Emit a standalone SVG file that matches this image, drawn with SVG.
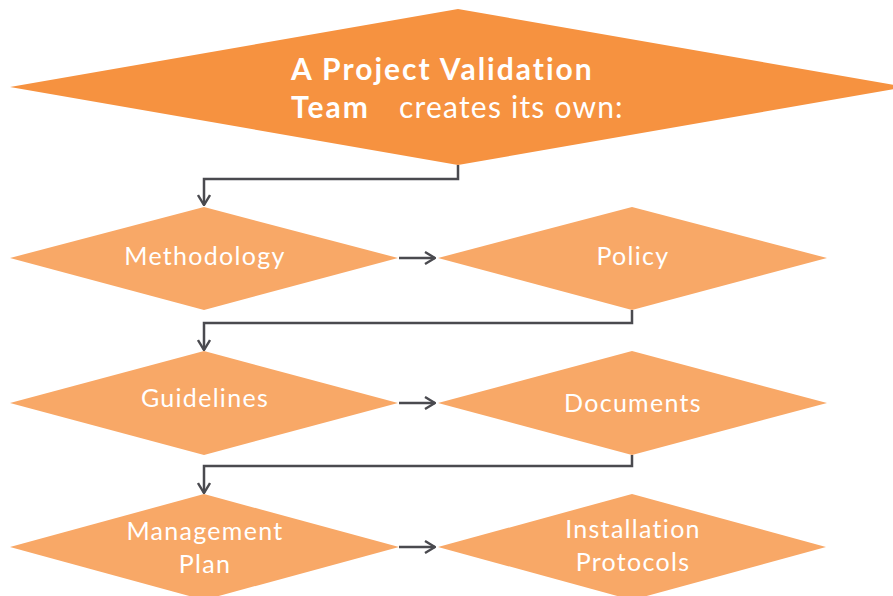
<svg xmlns="http://www.w3.org/2000/svg" width="893" height="596" viewBox="0 0 893 596">
<defs>
<style>
.main{fill:#F69240}
.node{fill:#F8A867}
.t{fill:#fff;font-family:Lato,"Open Sans",sans-serif;font-size:25px;text-anchor:middle;letter-spacing:1.3px}
.tt{fill:#fff;font-family:Lato,"Open Sans",sans-serif;font-size:30px}
.c{fill:none;stroke:#4A4A4F;stroke-width:2.5}
</style>
<marker id="ah" viewBox="0 0 12 14" refX="11" refY="7" markerWidth="12" markerHeight="14" markerUnits="userSpaceOnUse" orient="auto">
<path d="M1,1 L11,7 L1,13" fill="none" stroke="#4A4A4F" stroke-width="2.4"/>
</marker>
</defs>
<rect width="893" height="596" fill="#fff"/>
<g id="top">
<polygon class="main" points="458,9 906,87 458,165 10,87"/>
<text class="tt" x="291" y="80" font-weight="bold" letter-spacing="2">A Project Validation</text>
<text class="tt" x="291" y="118"><tspan font-weight="bold" letter-spacing="2">Team</tspan><tspan x="399" letter-spacing="1.2">creates its own:</tspan></text>
</g>
<g id="methodology">
<polygon class="node" points="204,207 398,258 204,310 10,258"/>
<text class="t" x="205" y="265" letter-spacing="1.5">Methodology</text>
</g>
<g id="policy">
<polygon class="node" points="632,207 827,258 632,310 438,258"/>
<text class="t" x="633" y="265" letter-spacing="1">Policy</text>
</g>
<g id="guidelines">
<polygon class="node" points="204,351 398,403 204,455 10,403"/>
<text class="t" x="205" y="407" letter-spacing="1.4">Guidelines</text>
</g>
<g id="documents">
<polygon class="node" points="632,351 827,403 632,455 438,403"/>
<text class="t" x="633" y="412">Documents</text>
</g>
<g id="management">
<polygon class="node" points="204,494 399,547 204,600 10,547"/>
<text class="t" x="205" y="540" letter-spacing="1.6">Management</text>
<text class="t" x="205" y="573">Plan</text>
</g>
<g id="installation">
<polygon class="node" points="632,494 826,547 632,600 438,547"/>
<text class="t" x="633" y="538" letter-spacing="0.9">Installation</text>
<text class="t" x="633" y="571" letter-spacing="1.2">Protocols</text>
</g>
<g id="connectors">
<path class="c" marker-end="url(#ah)" d="M458,165 V179 H204 V205"/>
<path class="c" marker-end="url(#ah)" d="M399,258 H435"/>
<path class="c" marker-end="url(#ah)" d="M632,310 V323 H204 V350"/>
<path class="c" marker-end="url(#ah)" d="M399,403 H435"/>
<path class="c" marker-end="url(#ah)" d="M632,455 V466 H204 V493"/>
<path class="c" marker-end="url(#ah)" d="M399,547 H435"/>
</g>
</svg>
